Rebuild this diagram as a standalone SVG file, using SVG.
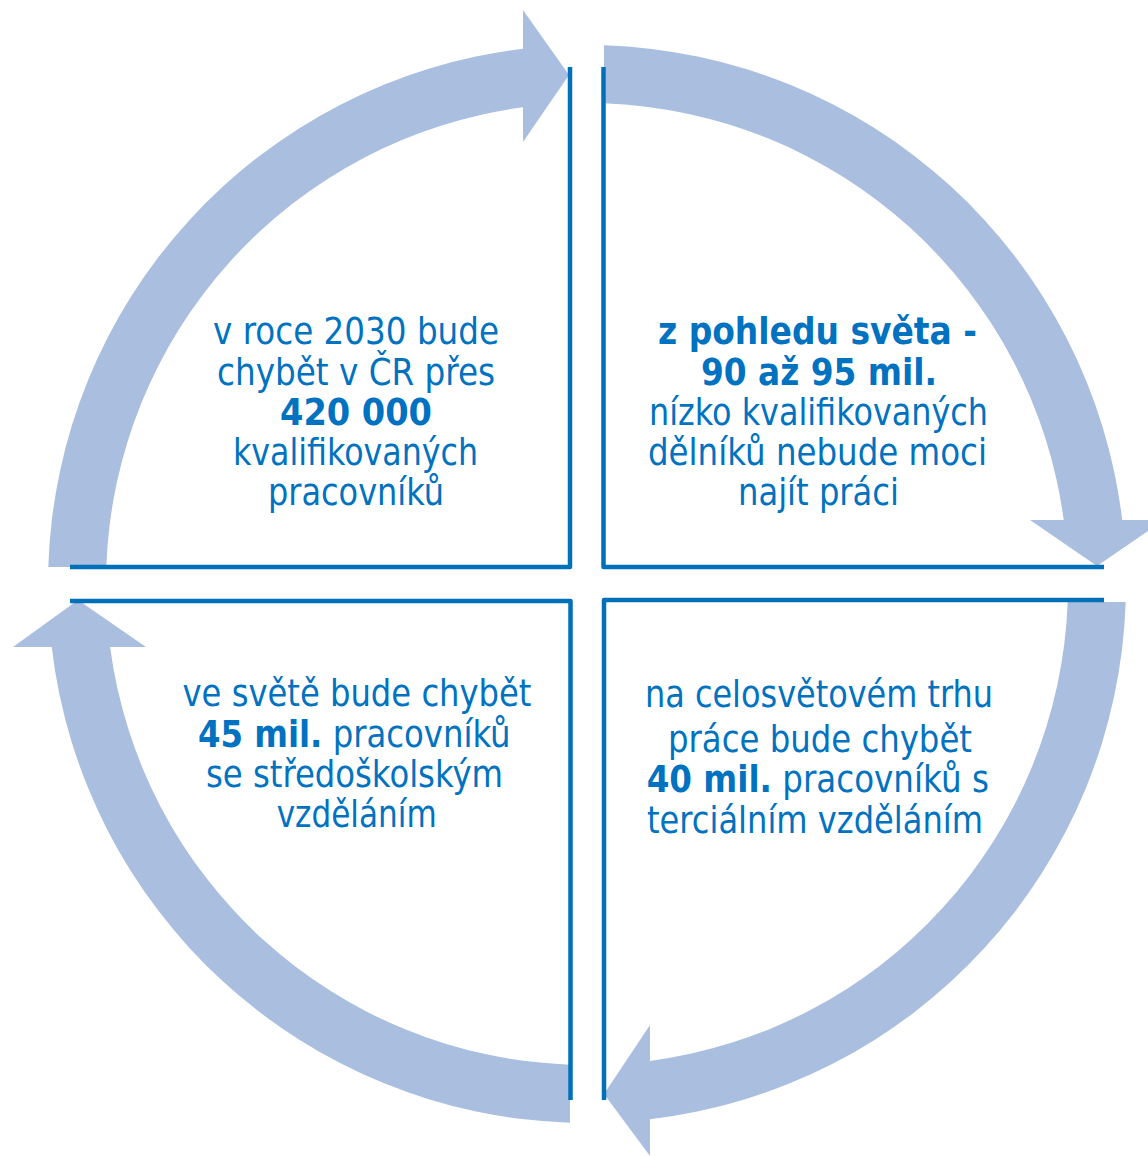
<svg xmlns="http://www.w3.org/2000/svg" width="1148" height="1156" viewBox="0 0 1148 1156">
<style>
.arrow{fill:#aabee0;stroke:none}
.border{fill:none;stroke:#0070b8;stroke-width:4.5;stroke-linejoin:round}
text{font-family:"DejaVu Sans","Liberation Sans",sans-serif;font-size:38px;fill:#0072c0;text-anchor:middle}
.b{font-weight:bold}
.s{text-anchor:start}
</style>
<rect width="1148" height="1156" fill="#ffffff"/>
<g id="connectors">
<path class="arrow" d="M 48.3 567 A 539 539 0 0 1 523 48.8 L 523 10 L 569 75 L 523 142 L 523 107.3 A 481 481 0 0 0 106.3 567 Z"/>
<path class="arrow" d="M 604 45.3 A 539 539 0 0 1 1122.2 520 L 1164 520 L 1097 566 L 1030 520 L 1063.7 520 A 481 481 0 0 0 604 103.3 Z"/>
<path class="arrow" d="M 1125.7 602 A 539 539 0 0 1 650 1119.3 L 650 1156 L 604 1094 L 650 1025 L 650 1060.9 A 481 481 0 0 0 1067.7 602 Z"/>
<path class="arrow" d="M 570 1122.7 A 539 539 0 0 1 51.7 647 L 13 647 L 78 600 L 146 647 L 110.1 647 A 481 481 0 0 0 570 1064.7 Z"/>
</g>
<g id="node-top-left">
<path class="border" d="M 70 567 L 570 567 L 570 67"/>
<text x="356" y="344" textLength="286" lengthAdjust="spacingAndGlyphs">v roce 2030 bude</text>
<text x="356" y="384.5" textLength="278" lengthAdjust="spacingAndGlyphs">chybět v ČR přes</text>
<text class="b" x="356" y="425" textLength="152" lengthAdjust="spacingAndGlyphs">420 000</text>
<text x="355.5" y="465" textLength="245" lengthAdjust="spacingAndGlyphs">kvalifikovaných</text>
<text x="356" y="505" textLength="176" lengthAdjust="spacingAndGlyphs">pracovníků</text>
</g>
<g id="node-top-right">
<path class="border" d="M 603.5 67 L 603.5 567 L 1104 567"/>
<text class="b" x="817.5" y="344" textLength="319" lengthAdjust="spacingAndGlyphs">z pohledu světa -</text>
<text class="b" x="819" y="384.5" textLength="236" lengthAdjust="spacingAndGlyphs">90 až 95 mil.</text>
<text x="818.5" y="425" textLength="339" lengthAdjust="spacingAndGlyphs">nízko kvalifikovaných</text>
<text x="817.5" y="465" textLength="339" lengthAdjust="spacingAndGlyphs">dělníků nebude moci</text>
<text x="818.5" y="505" textLength="161" lengthAdjust="spacingAndGlyphs">najít práci</text>
</g>
<g id="node-bottom-left">
<path class="border" d="M 70 601 L 570.5 601 L 570.5 1100"/>
<text x="357" y="706" textLength="349" lengthAdjust="spacingAndGlyphs">ve světě bude chybět</text>
<text class="s" x="0" y="0" transform="translate(198,746.5) scale(0.851,1)"><tspan class="b">45 mil.</tspan> pracovníků</text>
<text x="354.5" y="787" textLength="297" lengthAdjust="spacingAndGlyphs">se středoškolským</text>
<text x="356.7" y="827" textLength="160" lengthAdjust="spacingAndGlyphs">vzděláním</text>
</g>
<g id="node-bottom-right">
<path class="border" d="M 1104 600 L 604 600 L 604 1100"/>
<text x="819" y="707" textLength="348" lengthAdjust="spacingAndGlyphs">na celosvětovém trhu</text>
<text x="820" y="751.5" textLength="304" lengthAdjust="spacingAndGlyphs">práce bude chybět</text>
<text class="s" x="0" y="0" transform="translate(646.7,792) scale(0.857,1)"><tspan class="b">40 mil.</tspan> pracovníků s</text>
<text x="815" y="832.5" textLength="336" lengthAdjust="spacingAndGlyphs">terciálním vzděláním</text>
</g>
</svg>
